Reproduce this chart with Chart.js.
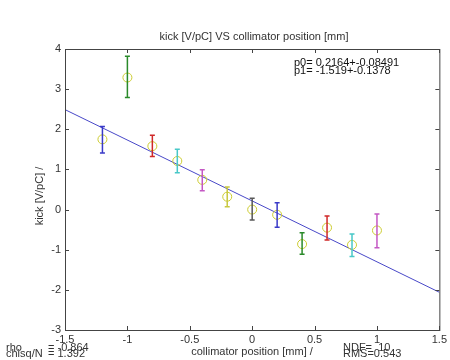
<!DOCTYPE html>
<html><head><meta charset="utf-8">
<script src="https://cdn.jsdelivr.net/npm/chart.js@4/dist/chart.umd.min.js"></script>
<style>html,body{margin:0;padding:0;background:#fff;}#wrap{width:450px;height:360px;}</style>
</head><body><div id="wrap"><canvas id="c" width="450" height="360"></canvas></div>
<script>
const positions = [-1.2, -1.0, -0.8, -0.6, -0.4, -0.2, 0.0, 0.2, 0.4, 0.6, 0.8, 1.0];
const kicks     = [1.75, 3.29, 1.58, 1.21, 0.74, 0.32, 0.00, -0.13, -0.86, -0.45, -0.88, -0.52];
const errLow    = [1.41, 2.79, 1.32, 0.92, 0.47, 0.07, -0.26, -0.44, -1.11, -0.76, -1.17, -0.95];
const errHigh   = [2.07, 3.82, 1.85, 1.50, 0.99, 0.56, 0.28, 0.17, -0.58, -0.16, -0.61, -0.11];
const barColors = ['#3a3ac8','#2a8a2a','#d02828','#48c8c8','#c458c4','#c8c840','#585858','#3a3ac8','#2a8a2a','#d02828','#48c8c8','#c458c4'];
const fitX = [-1.5, 1.5];
const fitY = [2.49, -2.06];
const xTicks = [-1.5, -1, -0.5, 0, 0.5, 1, 1.5];
const xTickLabels = ['-1.5','-1','-0.5','0','0.5','1','1.5'];
const yTicks = [-3, -2, -1, 0, 1, 2, 3, 4];
const yTickLabels = ['-3','-2','-1','0','1','2','3','4'];

const FONT = '"Liberation Sans", Arial, sans-serif';

const errorBars = {
  id: 'errorBars',
  afterDatasetsDraw(chart) {
    const {ctx, scales: {x, y}} = chart;
    ctx.save();
    ctx.lineWidth = 1.5;
    positions.forEach((px, i) => {
      const X = x.getPixelForValue(px);
      const y1 = y.getPixelForValue(errLow[i]);
      const y2 = y.getPixelForValue(errHigh[i]);
      ctx.strokeStyle = barColors[i];
      ctx.beginPath();
      ctx.moveTo(X, y1); ctx.lineTo(X, y2);
      ctx.moveTo(X - 2.5, y1); ctx.lineTo(X + 2.5, y1);
      ctx.moveTo(X - 2.5, y2); ctx.lineTo(X + 2.5, y2);
      ctx.stroke();
    });
    ctx.restore();
  }
};

const frame = {
  id: 'frame',
  afterDraw(chart) {
    const {ctx, chartArea: a, scales: {x, y}} = chart;
    ctx.save();
    ctx.strokeStyle = '#444';
    ctx.lineWidth = 1;
    ctx.strokeRect(a.left + 0.5, a.top + 0.5, a.right - a.left, a.bottom - a.top);
    ctx.beginPath();
    xTicks.forEach(v => {
      const X = Math.round(x.getPixelForValue(v)) + 0.5;
      ctx.moveTo(X, a.top); ctx.lineTo(X, a.top + 4);
      ctx.moveTo(X, a.bottom); ctx.lineTo(X, a.bottom - 4);
    });
    yTicks.forEach(v => {
      const Y = Math.round(y.getPixelForValue(v)) + 0.5;
      ctx.moveTo(a.left, Y); ctx.lineTo(a.left + 4, Y);
      ctx.moveTo(a.right, Y); ctx.lineTo(a.right - 4, Y);
    });
    ctx.stroke();

    ctx.fillStyle = '#333';
    ctx.font = '11px ' + FONT;
    ctx.textAlign = 'center';
    ctx.textBaseline = 'alphabetic';
    ctx.fillText('kick [V/pC] VS collimator position [mm]', 254, 40);
    ctx.fillText('collimator position [mm] /', 252, 355);
    ctx.textAlign = 'left';
    ctx.fillStyle = '#111';
    ctx.fillText('p0= 0.2164+-0.08491', 294, 66);
    ctx.fillText('p1= -1.519+-0.1378', 294, 74);
    ctx.fillStyle = '#333';
    ctx.fillText('rho', 6, 351);
    ctx.fillText('= -0.864', 48, 351);
    ctx.fillText('chisq/N', 6, 357);
    ctx.fillText('= 1.392', 48, 357);
    ctx.fillText('NDF=  10', 343, 351);
    ctx.fillText('RMS=0.543', 343, 357);
    ctx.translate(43, 196);
    ctx.rotate(-Math.PI / 2);
    ctx.textAlign = 'center';
    ctx.fillText('kick [V/pC] /', 0, 0);
    ctx.restore();
  }
};

new Chart(document.getElementById('c'), {
  type: 'scatter',
  data: {
    datasets: [
      {
        type: 'line',
        data: fitX.map((v, i) => ({x: v, y: fitY[i]})),
        borderColor: '#4848c8',
        borderWidth: 1,
        pointRadius: 0,
        fill: false,
        order: 2
      },
      {
        data: positions.map((v, i) => ({x: v, y: kicks[i]})),
        pointStyle: 'circle',
        pointRadius: 4.5,
        pointBorderColor: '#cccc30',
        pointBackgroundColor: 'rgba(0,0,0,0)',
        pointBorderWidth: 1,
        showLine: false,
        order: 1
      }
    ]
  },
  options: {
    responsive: false,
    animation: false,
    devicePixelRatio: 1,
    layout: {padding: {left: 0, right: 7, top: 49, bottom: 0}},
    plugins: {legend: {display: false}, tooltip: {enabled: false}, title: {display: false}},
    scales: {
      x: {
        type: 'linear', min: -1.5, max: 1.5,
        afterBuildTicks(s) { s.ticks = xTicks.map(v => ({value: v})); },
        afterFit(s) { s.height = 30; },
        grid: {display: false, drawTicks: false},
        border: {display: false},
        ticks: {
          padding: 3, color: '#333', font: {family: FONT, size: 11},
          maxRotation: 0, autoSkip: false,
          callback: (v) => xTickLabels[xTicks.indexOf(v)]
        }
      },
      y: {
        type: 'linear', min: -3, max: 4,
        afterBuildTicks(s) { s.ticks = yTicks.map(v => ({value: v})); },
        afterFit(s) { s.width = 65; },
        grid: {display: false, drawTicks: false},
        border: {display: false},
        ticks: {
          padding: 4, color: '#333', font: {family: FONT, size: 11},
          autoSkip: false,
          callback: (v) => yTickLabels[yTicks.indexOf(v)]
        }
      }
    }
  },
  plugins: [errorBars, frame]
});
</script>
</body></html>
